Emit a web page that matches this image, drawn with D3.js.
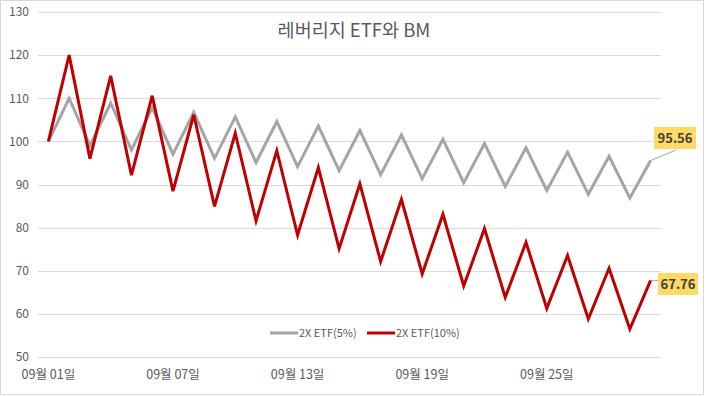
<!DOCTYPE html>
<html>
<head>
<meta charset="utf-8">
<script src="https://cdn.jsdelivr.net/npm/d3@7"></script>
<style>
body { margin: 0; background: #fff; }
text { font-family: "Noto Sans CJK KR", "Noto Sans", sans-serif; }
</style>
</head>
<body>
<svg></svg>
<script>
var gray = "#a5a5a5"
var red = "#c00000"

var svgWidth = 708, svgHeight = 396;

// data
var days = [];
for (var d = 1; d <= 30; d++) days.push("09월 " + (d < 10 ? "0" + d : d) + "일");
var tickDays = ["09월 01일", "09월 07일", "09월 13일", "09월 19일", "09월 25일"];
var yTicks = [50, 60, 70, 80, 90, 100, 110, 120, 130];
var etf5 = [100, 110, 99, 108.9, 98.01, 107.81, 97.03, 106.73, 96.06, 105.67,
    95.10, 104.61, 94.15, 103.56, 93.21, 102.53, 92.27, 101.50, 91.35, 100.49,
    90.44, 99.48, 89.53, 98.49, 88.64, 97.50, 87.75, 96.53, 86.87, 95.56];
var etf10 = [100, 120, 96, 115.2, 92.16, 110.59, 88.47, 106.17, 84.93, 101.92,
    81.54, 97.84, 78.28, 93.93, 75.14, 90.17, 72.14, 86.56, 69.25, 83.10,
    66.48, 79.78, 63.82, 76.59, 61.27, 73.53, 58.82, 70.59, 56.47, 67.76];
var seriesNames = ["2X ETF(5%)", "2X ETF(10%)"];

var svg = d3.select("svg")
    .attr("width", svgWidth)
    .attr("height", svgHeight);

// outer border
svg.append("rect")
    .attr("x", 0.5).attr("y", 0.5)
    .attr("width", svgWidth - 5).attr("height", svgHeight - 2)
    .attr("fill", "#fff")
    .attr("stroke", "#d9d9d9");

var plotLeft = 38, plotRight = 661, plotTop = 12, plotBottom = 357;

var xScale = d3.scaleBand()
    .domain(days)
    .range([plotLeft, plotRight]);
var yScale = d3.scaleLinear()
    .domain([50, 130])
    .range([plotBottom, plotTop]);

// gridlines
svg.append("g").selectAll("line")
    .data(yTicks)
    .enter().append("line")
    .attr("x1", plotLeft).attr("x2", plotRight)
    .attr("y1", function(v) { return Math.round(yScale(v)) + 0.5; })
    .attr("y2", function(v) { return Math.round(yScale(v)) + 0.5; })
    .attr("stroke", "#d9d9d9")
    .attr("stroke-width", 1);

// y axis labels
var y_axis = d3.axisLeft(yScale).tickValues(yTicks).tickSize(0).tickPadding(9);
var gy = svg.append("g")
    .attr("transform", "translate(" + plotLeft + ",0)")
    .call(y_axis);
gy.select(".domain").remove();
gy.selectAll("text")
    .attr("fill", "#595959")
    .style("font-size", "12px");

// x axis labels
var x_axis = d3.axisBottom(xScale).tickValues(tickDays).tickSize(0).tickPadding(13);
var gx = svg.append("g")
    .attr("transform", "translate(0," + plotBottom + ")")
    .call(x_axis);
gx.select(".domain").remove();
gx.selectAll("text")
    .attr("fill", "#595959")
    .style("font-size", "12.5px");

var cx = function(d, i) { return xScale(days[i]) + xScale.bandwidth() / 2; };
var line = d3.line()
    .x(cx)
    .y(function(v) { return yScale(v); });

svg.append("path")
    .datum(etf5)
    .attr("d", line)
    .attr("fill", "none")
    .attr("stroke", gray)
    .attr("stroke-width", 3)
    .attr("stroke-linejoin", "miter");

svg.append("path")
    .datum(etf10)
    .attr("d", line)
    .attr("fill", "none")
    .attr("stroke", red)
    .attr("stroke-width", 3)
    .attr("stroke-linejoin", "miter");

// title
svg.append("text")
    .attr("x", 354).attr("y", 37)
    .attr("text-anchor", "middle")
    .attr("fill", "#595959")
    .style("font-size", "18.5px")
    .text("레버리지 ETF와 BM");

// end labels
var lastX = cx(null, days.length - 1);
function endLabel(val, bx, by, bw, bh, lx, ly) {
    svg.append("line")
        .attr("x1", lastX).attr("y1", yScale(val))
        .attr("x2", lx).attr("y2", ly)
        .attr("stroke", "#a6a6a6")
        .attr("stroke-width", 1);
    svg.append("rect")
        .attr("x", bx).attr("y", by)
        .attr("width", bw).attr("height", bh)
        .attr("fill", "#ffd966");
    svg.append("text")
        .attr("x", bx + bw / 2).attr("y", by + bh / 2 + 5)
        .attr("text-anchor", "middle")
        .attr("fill", "#404040")
        .style("font-size", "13px")
        .style("font-weight", "bold")
        .text(val.toFixed(2));
}
endLabel(etf5[etf5.length - 1], 654, 127, 42, 22, 676, 150);
endLabel(etf10[etf10.length - 1], 658, 273, 40, 22, 658, yScale(etf10[etf10.length - 1]));

// legend
var legend = svg.append("g");
var legendX = [270, 367];
[gray, red].forEach(function(c, i) {
    legend.append("line")
        .attr("x1", legendX[i]).attr("x2", legendX[i] + 28)
        .attr("y1", 333).attr("y2", 333)
        .attr("stroke", c)
        .attr("stroke-width", 3);
    legend.append("text")
        .attr("x", legendX[i] + 29).attr("y", 337)
        .attr("fill", "#595959")
        .style("font-size", "11px")
        .text(seriesNames[i]);
});
</script>
</body>
</html>
